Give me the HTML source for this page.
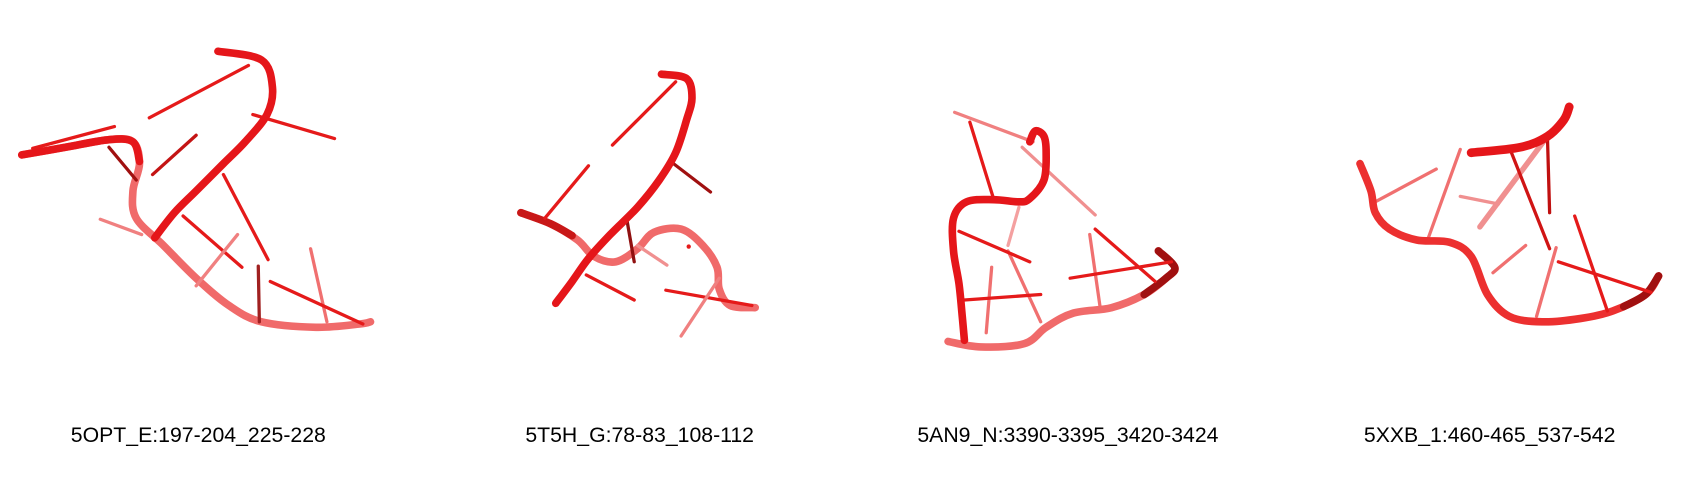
<!DOCTYPE html>
<html><head><meta charset="utf-8"><style>
html,body{margin:0;padding:0;background:#fff;width:1700px;height:480px;overflow:hidden}
svg{display:block}
text{font-family:"Liberation Sans",Arial,sans-serif;font-size:19.5px;fill:#000}
</style></head><body>
<svg width="1700" height="480" viewBox="0 0 1560 440" preserveAspectRatio="none">
<g fill="none" stroke-linecap="round" stroke-linejoin="round">
<g>
<polyline class="sm" stroke="#f06a6a" stroke-width="7" points="20,142 60,135 100,128 122,130 128,150 122,175 125,200 150,225 180,255 210,280 240,295 290,300 330,297 340,295"/>
<polyline class="sm" stroke="#e5161a" stroke-width="7" points="20,142 60,135 100,128 122,130 128,148"/>
<g stroke-width="3">
<line stroke="#e51a1a" x1="137" y1="108" x2="228" y2="60"/>
<line stroke="#e51a1a" x1="232" y1="105" x2="307" y2="127"/>
<line stroke="#e51a1a" x1="30" y1="136" x2="105" y2="116"/>
<line stroke="#a01010" x1="100" y1="135" x2="125" y2="165"/>
<line stroke="#c41414" x1="140" y1="160" x2="180" y2="124"/>
<line stroke="#e51a1a" x1="205" y1="160" x2="246" y2="238"/>
<line stroke="#e51a1a" x1="168" y1="198" x2="222" y2="245"/>
<line stroke="#f08080" x1="92" y1="201" x2="130" y2="215"/>
<line stroke="#f08080" x1="218" y1="215" x2="180" y2="262"/>
<line stroke="#a02020" x1="237" y1="244" x2="238" y2="295"/>
<line stroke="#f07070" x1="285" y1="228" x2="300" y2="295"/>
<line stroke="#e51a1a" x1="248" y1="258" x2="333" y2="297"/>
</g>
<polyline class="sm" stroke="#e5161a" stroke-width="7" points="200,47 240,55 250,80 245,105 225,130 205,150 180,175 160,195 142,218"/>
</g>
<g>
<polyline class="sm" stroke="#f06a6a" stroke-width="7" points="478,195 505,205 530,220 545,235 565,240 585,228 600,213 625,210 645,225 658,245 660,265 670,280 693,282"/>
<polyline class="sm" stroke="#c81818" stroke-width="7" points="478,195 505,205 525,216"/>
<g stroke-width="3">
<line stroke="#e51a1a" x1="562" y1="133" x2="620" y2="75"/>
<line stroke="#e51a1a" x1="500" y1="200" x2="540" y2="152"/>
<line stroke="#a01010" x1="618" y1="150" x2="652" y2="176"/>
<line stroke="#901010" x1="575" y1="200" x2="582" y2="240"/>
<line stroke="#e51a1a" x1="538" y1="252" x2="582" y2="275"/>
<line stroke="#e51a1a" x1="611" y1="266" x2="690" y2="280"/>
<line stroke="#f08080" x1="660" y1="255" x2="625" y2="308"/>
<line stroke="#f09090" x1="585" y1="225" x2="612" y2="243"/>
</g>
<circle cx="632" cy="226" r="2" fill="#e51a1a" stroke="none"/>
<polyline class="sm" stroke="#e5161a" stroke-width="7" points="607,68 630,72 635,90 630,110 620,140 605,165 585,190 560,215 540,237 525,258 510,278"/>
</g>
<g>
<g stroke-width="3">
<line stroke="#f08080" x1="876" y1="103" x2="948" y2="130"/>
<line stroke="#f09090" x1="938" y1="135" x2="1005" y2="197"/>
<line stroke="#f4a0a0" x1="935" y1="190" x2="925" y2="225"/>
<line stroke="#f07070" x1="925" y1="230" x2="955" y2="295"/>
<line stroke="#f07070" x1="910" y1="245" x2="905" y2="305"/>
<line stroke="#f07070" x1="1000" y1="215" x2="1010" y2="285"/>
</g>
<polyline class="sm" stroke="#f06a6a" stroke-width="7" points="870,313 900,318 940,315 960,300 985,287 1020,282 1050,270 1070,255 1078,245 1063,230"/>
<polyline class="sm" stroke="#a01010" stroke-width="7" points="1050,270 1070,255 1078,245 1063,230"/>
<g stroke-width="3">
<line stroke="#e51a1a" x1="890" y1="112" x2="912" y2="183"/>
<line stroke="#e51a1a" x1="880" y1="212" x2="945" y2="240"/>
<line stroke="#e51a1a" x1="885" y1="275" x2="955" y2="270"/>
<line stroke="#e51a1a" x1="1005" y1="210" x2="1060" y2="258"/>
<line stroke="#e51a1a" x1="982" y1="255" x2="1075" y2="240"/>
</g>
<polyline class="sm" stroke="#e5161a" stroke-width="7" points="945,130 950,120 958,125 960,140 958,165 945,182 935,185 912,183 887,185 875,200 875,230 880,260 883,290 885,312"/>
</g>
<g>
<g stroke-width="3">
<line stroke="#f07070" x1="1262" y1="185" x2="1318" y2="155"/>
<line stroke="#f07070" x1="1310" y1="220" x2="1340" y2="137"/>
<line stroke="#f09090" x1="1340" y1="180" x2="1375" y2="187"/>
<line stroke="#f09090" stroke-width="5" x1="1358" y1="208" x2="1420" y2="125"/>
<line stroke="#f07070" x1="1370" y1="250" x2="1400" y2="225"/>
<line stroke="#f07070" x1="1410" y1="290" x2="1428" y2="227"/>
</g>
<polyline class="sm" stroke="#ec3030" stroke-width="7" points="1248,150 1258,175 1262,195 1275,210 1300,220 1330,222 1350,235 1365,270 1385,290 1415,295 1450,292 1480,285 1510,270 1522,253"/>
<polyline class="sm" stroke="#a01010" stroke-width="7" points="1490,281 1510,270 1522,253"/>
<g stroke-width="3">
<line stroke="#d01414" x1="1385" y1="135" x2="1422" y2="228"/>
<line stroke="#c01010" x1="1420" y1="125" x2="1422" y2="195"/>
<line stroke="#e51a1a" x1="1445" y1="198" x2="1475" y2="285"/>
<line stroke="#e51a1a" x1="1430" y1="240" x2="1515" y2="268"/>
</g>
<polyline class="sm" stroke="#e5161a" stroke-width="8" points="1350,140 1395,135 1420,125 1435,110 1440,98"/>
</g>
</g>
<text x="182" y="405" text-anchor="middle">5OPT_E:197-204_225-228</text>
<text x="587" y="405" text-anchor="middle">5T5H_G:78-83_108-112</text>
<text x="980" y="405" text-anchor="middle">5AN9_N:3390-3395_3420-3424</text>
<text x="1367" y="405" text-anchor="middle">5XXB_1:460-465_537-542</text>
</svg>
<script>
document.querySelectorAll('polyline.sm').forEach(function(pl){
  var pts = pl.getAttribute('points').trim().split(/\s+/).map(function(s){return s.split(',').map(Number);});
  var d = 'M' + pts[0][0] + ',' + pts[0][1];
  for (var i = 0; i < pts.length - 1; i++) {
    var p0 = pts[i-1] || pts[i], p1 = pts[i], p2 = pts[i+1], p3 = pts[i+2] || p2;
    var c1x = p1[0] + (p2[0]-p0[0])/6, c1y = p1[1] + (p2[1]-p0[1])/6;
    var c2x = p2[0] - (p3[0]-p1[0])/6, c2y = p2[1] - (p3[1]-p1[1])/6;
    d += ' C' + c1x + ',' + c1y + ' ' + c2x + ',' + c2y + ' ' + p2[0] + ',' + p2[1];
  }
  var path = document.createElementNS('http://www.w3.org/2000/svg','path');
  
  
  path.setAttribute('d', d);
  path.setAttribute('stroke', pl.getAttribute('stroke'));
  path.setAttribute('stroke-width', pl.getAttribute('stroke-width'));
  pl.parentNode.replaceChild(path, pl);
});
</script>
</body></html>
